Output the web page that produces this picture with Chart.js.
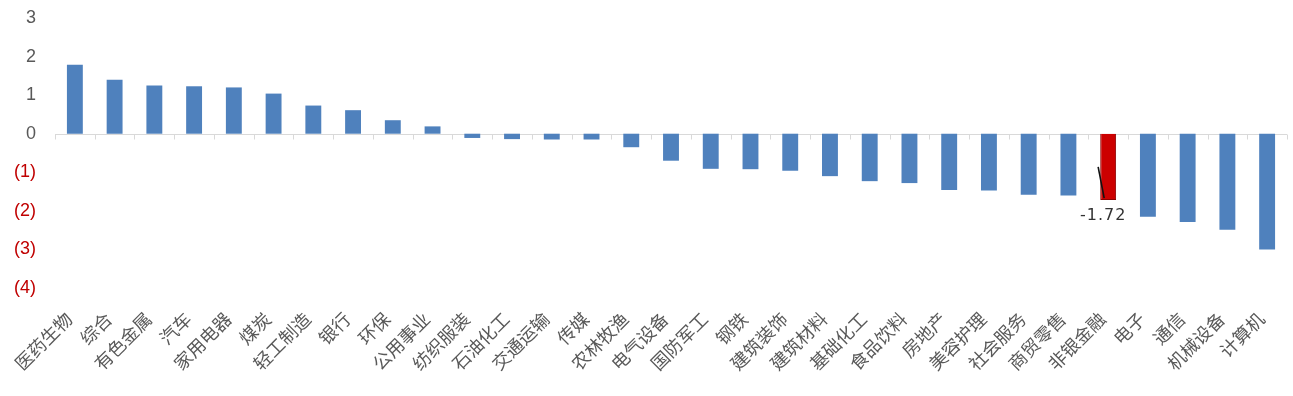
<!DOCTYPE html>
<html>
<head>
<meta charset="utf-8">
<script src="https://cdn.jsdelivr.net/npm/chart.js@4.4.1/dist/chart.umd.min.js"></script>
<style>
html,body{margin:0;padding:0;background:#fff;}
#wrap{width:1293px;height:396px;position:relative;}
</style>
</head>
<body>
<div id="wrap"><canvas id="c" width="1293" height="396"></canvas></div>
<script>
const categories = ['医药生物','综合','有色金属','汽车','家用电器','煤炭','轻工制造','银行','环保','公用事业','纺织服装','石油化工','交通运输','传媒','农林牧渔','电气设备','国防军工','钢铁','建筑装饰','建筑材料','基础化工','食品饮料','房地产','美容护理','社会服务','商贸零售','非银金融','电子','通信','机械设备','计算机'];
const values = [1.79,1.40,1.25,1.23,1.20,1.04,0.73,0.61,0.35,0.19,-0.11,-0.14,-0.15,-0.15,-0.35,-0.70,-0.91,-0.92,-0.96,-1.10,-1.23,-1.28,-1.46,-1.47,-1.58,-1.60,-1.72,-2.15,-2.29,-2.49,-3.00];
const highlightCategory = '非银金融';
const highlightLabel = '-1.72';
const yTickValues = [3,2,1,0,-1,-2,-3,-4];
const yTickLabels = ['3','2','1','0','(1)','(2)','(3)','(4)'];

const BLUE = '#4f81bd';
const RED = '#cc0000';
const hi = categories.indexOf(highlightCategory);

const zeroAxisPlugin = {
  id: 'zeroAxis',
  beforeDatasetsDraw(chart) {
    const {ctx, scales: {x, y}} = chart;
    const y0 = Math.round(y.getPixelForValue(0)) + 0.5;
    const n = categories.length;
    const step = (x.getPixelForValue(n - 1) - x.getPixelForValue(0)) / (n - 1);
    ctx.save();
    ctx.strokeStyle = '#d9d9d9';
    ctx.lineWidth = 1;
    ctx.beginPath();
    ctx.moveTo(x.getPixelForValue(0) - step / 2, y0);
    ctx.lineTo(x.getPixelForValue(n - 1) + step / 2, y0);
    for (let i = 0; i <= n; i++) {
      const px = Math.round(x.getPixelForValue(0) - step / 2 + i * step) + 0.5;
      ctx.moveTo(px, y0);
      ctx.lineTo(px, y0 + 5);
    }
    ctx.stroke();
    ctx.restore();
  },
  afterDatasetsDraw(chart) {
    const {ctx, scales: {x, y}} = chart;
    const bar = chart.getDatasetMeta(0).data[hi];
    const bx = bar.x;
    const bottom = y.getPixelForValue(values[hi]);
    ctx.save();
    ctx.strokeStyle = '#111';
    ctx.lineWidth = 1.6;
    ctx.beginPath();
    ctx.moveTo(bx - 10, y.getPixelForValue(values[hi] * 0.5));
    ctx.lineTo(bx - 4, bottom - 2);
    ctx.stroke();
    ctx.fillStyle = '#333';
    ctx.font = '16px "DejaVu Sans", Arial, sans-serif';
    ctx.textAlign = 'center';
    ctx.textBaseline = 'middle';
    try { ctx.letterSpacing = '1px'; } catch (e) {}
    ctx.fillText(highlightLabel, bx - 5, bottom + 16);
    ctx.restore();
  }
};

new Chart(document.getElementById('c'), {
  type: 'bar',
  data: {
    labels: categories,
    datasets: [{
      data: values,
      backgroundColor: categories.map((c, i) => i === hi ? RED : BLUE),
      borderColor: categories.map((c, i) => i === hi ? '#8b0000' : BLUE),
      borderWidth: categories.map((c, i) => i === hi ? 1 : 0),
      barPercentage: 0.4,
      categoryPercentage: 1.0
    }]
  },
  options: {
    responsive: false,
    animation: false,
    devicePixelRatio: 1,
    layout: { padding: { top: 18, right: 6, left: 0, bottom: 0 } },
    plugins: { legend: { display: false }, tooltip: { enabled: false } },
    scales: {
      x: {
        grid: { display: false, drawTicks: false },
        border: { display: false },
        ticks: {
          autoSkip: false,
          minRotation: 45,
          maxRotation: 45,
          padding: 20,
          labelOffset: -6,
          color: '#595959',
          font: { family: '"Noto Sans CJK SC", sans-serif', size: 18 }
        },
        afterFit(scale) { scale.height = 108; scale.paddingRight = 0; scale.paddingTop = 0; }
      },
      y: {
        min: -4,
        max: 3,
        grid: { display: false, drawTicks: false },
        border: { display: false },
        afterBuildTicks(scale) { scale.ticks = yTickValues.map(v => ({ value: v })); },
        afterFit(scale) { scale.width = 55; scale.paddingTop = 0; scale.paddingBottom = 0; },
        ticks: {
          padding: 19,
          color: ctx => (ctx.tick && ctx.tick.value < 0) ? '#c00000' : '#595959',
          font: { family: 'Arial, "Liberation Sans", sans-serif', size: 18 },
          callback: (v) => yTickLabels[yTickValues.indexOf(v)]
        }
      }
    }
  },
  plugins: [zeroAxisPlugin]
});
</script>
</body>
</html>
